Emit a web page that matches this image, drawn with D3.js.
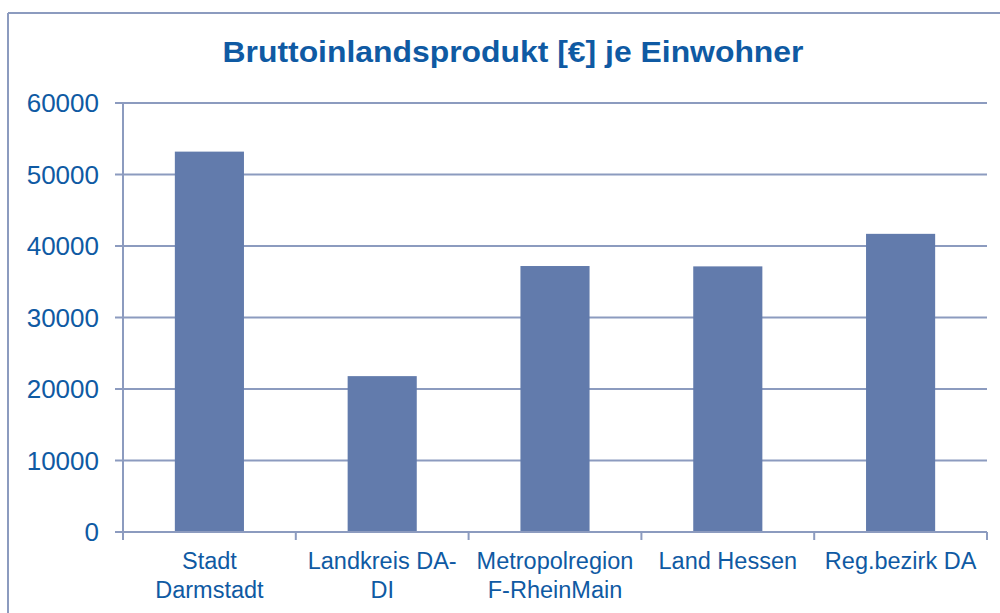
<!DOCTYPE html>
<html><head>
<meta charset="utf-8">
<script src="https://d3js.org/d3.v7.min.js"></script>
<style>
  body { margin: 0; background: #fff; }
  svg text { font-family: "Liberation Sans", Arial, sans-serif; fill: #0f5aa3; }
  .grid line { stroke: #8c9bbf; stroke-width: 2px; }
</style>
</head>
<body>
<svg id="chart" width="1000" height="613"></svg>
<script>
// Data
const categories = [["Stadt", "Darmstadt"], ["Landkreis DA-", "DI"], ["Metropolregion", "F-RheinMain"], ["Land Hessen"], ["Reg.bezirk DA"]];
const values = [53200, 21800, 37200, 37150, 41700];
const yTicks = [0, 10000, 20000, 30000, 40000, 50000, 60000];
const title = "Bruttoinlandsprodukt [€] je Einwohner";

const svg = d3.select("#chart");
const lineColor = "#8c9bbf";

// Outer frame (top + left edges)
svg.append("line").attr("x1", 8).attr("x2", 1000).attr("y1", 13).attr("y2", 13)
   .attr("stroke", lineColor).attr("stroke-width", 2);
svg.append("line").attr("x1", 8).attr("x2", 8).attr("y1", 13).attr("y2", 613)
   .attr("stroke", lineColor).attr("stroke-width", 2);

// title is a bit wider than plain Arial bold, so stretch it horizontally
svg.append("text").attr("x", 513).attr("y", 62).attr("text-anchor", "middle")
   .attr("font-size", 29).attr("font-weight", "bold")
   .attr("textLength", 581).attr("lengthAdjust", "spacingAndGlyphs")
   .text(title);

const plotL = 123, plotR = 987, plotT = 103, plotB = 532;

const x = d3.scaleBand().domain(d3.range(categories.length))
            .range([plotL, plotR]).paddingInner(0.6).paddingOuter(0.3);
const y = d3.scaleLinear().domain([0, 60000]).range([plotB, plotT]);

// Gridlines with tick labels
const grid = svg.append("g").attr("class", "grid");
grid.selectAll("line").data(yTicks).join("line")
    .attr("x1", plotL - 8).attr("x2", plotR)
    .attr("y1", d => y(d)).attr("y2", d => y(d));
svg.append("g").selectAll("text").data(yTicks).join("text")
    .attr("x", 99).attr("y", d => y(d) + 9)
    .attr("text-anchor", "end").attr("font-size", 26)
    .text(d => d);

// Bars
svg.append("g").selectAll("rect").data(values).join("rect")
   .attr("x", (d, i) => x(i)).attr("width", x.bandwidth())
   .attr("y", d => y(d)).attr("height", d => y(0) - y(d))
   .attr("fill", "#627bac");

// Axes lines
svg.append("line").attr("x1", plotL).attr("x2", plotL).attr("y1", plotT).attr("y2", plotB + 8)
   .attr("stroke", lineColor).attr("stroke-width", 2);
svg.append("line").attr("x1", plotL).attr("x2", plotR).attr("y1", plotB).attr("y2", plotB)
   .attr("stroke", lineColor).attr("stroke-width", 2);
const step = x.step();
svg.append("g").selectAll("line").data(d3.range(categories.length + 1)).join("line")
   .attr("x1", i => plotL + i * step).attr("x2", i => plotL + i * step)
   .attr("y1", plotB).attr("y2", plotB + 8)
   .attr("stroke", lineColor).attr("stroke-width", 2);

// Category labels
const lab = svg.append("g").selectAll("text").data(categories).join("text")
   .attr("x", (d, i) => x(i) + x.bandwidth() / 2).attr("y", 569)
   .attr("text-anchor", "middle").attr("font-size", 23.5);
lab.selectAll("tspan").data(d => d).join("tspan")
   .attr("x", function () { return this.parentNode.getAttribute("x"); })
   .attr("dy", (d, j) => j === 0 ? 0 : 29)
   .text(d => d);
</script>
</body>
</html>
